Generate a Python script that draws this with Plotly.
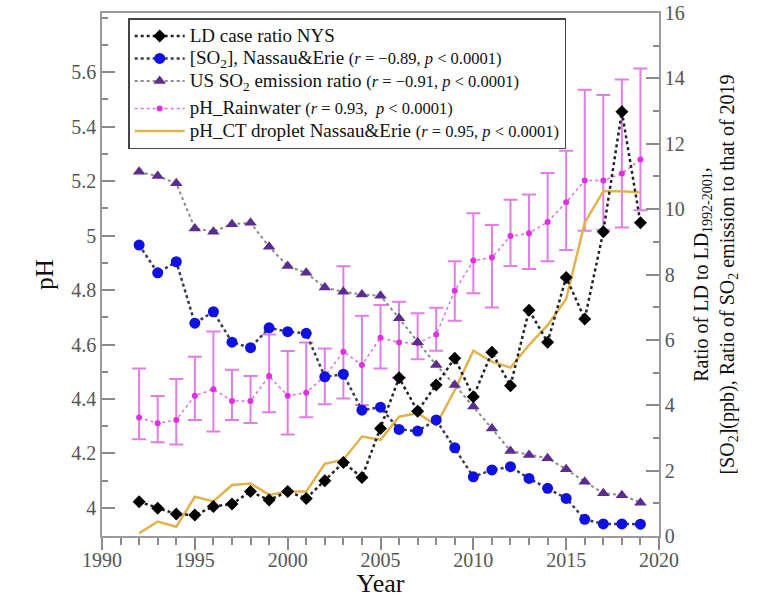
import plotly.graph_objects as go

years = list(range(1992, 2020))

ld_ratio = [1.05, 0.85, 0.67, 0.64, 0.90, 0.98, 1.36, 1.10, 1.36, 1.15, 1.69, 2.25, 1.79, 3.29,
            4.84, 3.82, 4.62, 5.44, 4.26, 5.62, 4.60, 6.91, 5.93, 7.91, 6.64, 9.31, 12.98, 9.58]

so2_ppb = [8.90, 8.05, 8.39, 6.51, 6.86, 5.93, 5.76, 6.37, 6.25, 6.20, 4.87, 4.95, 3.85, 3.94,
           3.26, 3.21, 3.55, 2.70, 1.81, 2.02, 2.12, 1.76, 1.46, 1.15, 0.51, 0.37, 0.37, 0.36]

us_so2_ratio = [11.14, 11.01, 10.79, 9.41, 9.31, 9.54, 9.58, 8.85, 8.26, 8.05, 7.60, 7.47, 7.39, 7.35,
                6.66, 5.93, 5.23, 4.62, 3.96, 3.29, 2.60, 2.48, 2.38, 2.04, 1.66, 1.31, 1.25, 1.02]

ph_rain = [4.332, 4.311, 4.323, 4.412, 4.436, 4.393, 4.393, 4.484, 4.412, 4.423, 4.484, 4.573, 4.525, 4.625,
           4.607, 4.605, 4.637, 4.797, 4.908, 4.919, 4.998, 5.008, 5.050, 5.122, 5.202, 5.202, 5.228, 5.279]
ph_rain_err_up = [0.18, 0.10, 0.15, 0.143, 0.212, 0.114, 0.091, 0.153, 0.164, 0.184, 0.101, 0.314, 0.181, 0.12,
                  0.15, 0.11, 0.098, 0.109, 0.174, 0.12, 0.133, 0.143, 0.18, 0.189, 0.333, 0.314, 0.345, 0.334]
ph_rain_err_down = [0.08, 0.07, 0.09, 0.089, 0.155, 0.07, 0.081, 0.133, 0.142, 0.09, 0.103, 0.171, 0.147, 0.113,
                    0.129, 0.059, 0.06, 0.11, 0.12, 0.183, 0.11, 0.131, 0.144, 0.175, 0.184, 0.181, 0.198, 0.186]

ph_ct = [3.907, 3.950, 3.931, 4.041, 4.024, 4.084, 4.090, 4.048, 4.060, 4.060, 4.162, 4.177, 4.262, 4.250,
         4.335, 4.348, 4.304, 4.433, 4.577, 4.537, 4.515, 4.598, 4.671, 4.767, 5.047, 5.163, 5.163, 5.158]

ph_tickvals = [4.0, 4.2, 4.4, 4.6, 4.8, 5.0, 5.2, 5.4, 5.6]
ph_ticktext = ["4", "4.2", "4.4", "4.6", "4.8", "5", "5.2", "5.4", "5.6"]

FONT = "Liberation Serif"
BIG = "<span style='font-size:19px'>"
SMALL = "<span style='font-size:16.5px'>"
END = "</span>"

fig = go.Figure()

fig.add_trace(go.Scatter(
    x=years, y=ph_rain, mode="lines+markers", yaxis="y",
    name=BIG + "pH_Rainwater " + END + SMALL + "(<i>r</i> = 0.93,  <i>p</i> &lt; 0.0001)" + END,
    line=dict(color="#e070e0", width=1.5, dash="dot"),
    marker=dict(color="#e030e0", size=6, symbol="circle"),
    error_y=dict(type="data", symmetric=False, array=ph_rain_err_up, arrayminus=ph_rain_err_down,
                 color="#e07ee6", thickness=2, width=7),
    legendgroup="b", legendrank=4,
))

fig.add_trace(go.Scatter(
    x=years, y=ph_ct, mode="lines", yaxis="y",
    name=BIG + "pH_CT droplet Nassau&amp;Erie " + END + SMALL + "(<i>r</i> = 0.95, <i>p</i> &lt; 0.0001)" + END,
    line=dict(color="#e3b24a", width=2.5),
    legendgroup="b", legendrank=5,
))

fig.add_trace(go.Scatter(
    x=years, y=us_so2_ratio, mode="lines+markers", yaxis="y2",
    name=BIG + "US SO<sub>2</sub> emission ratio " + END + SMALL + "(<i>r</i> = −0.91, <i>p</i> &lt; 0.0001)" + END,
    line=dict(color="#8a8a8a", width=2, dash="dot"),
    marker=dict(color="#5b2d8e", size=11, symbol="triangle-up"),
    legendgroup="a", legendrank=3,
))

fig.add_trace(go.Scatter(
    x=years, y=so2_ppb, mode="lines+markers", yaxis="y2",
    name=BIG + "[SO<sub>2</sub>], Nassau&amp;Erie " + END + SMALL + "(<i>r</i> = −0.89, <i>p</i> &lt; 0.0001)" + END,
    line=dict(color="#3a3a5a", width=2.5, dash="dot"),
    marker=dict(color="#1010e0", size=11, symbol="circle"),
    legendgroup="a", legendrank=2,
))

fig.add_trace(go.Scatter(
    x=years, y=ld_ratio, mode="lines+markers", yaxis="y2",
    name=BIG + "LD case ratio NYS" + END,
    line=dict(color="#222222", width=2.5, dash="dot"),
    marker=dict(color="#000000", size=10, symbol="diamond"),
    legendgroup="a", legendrank=1,
))

axis_common = dict(showline=True, linecolor="#9a9a9a", linewidth=1.5, showgrid=False, zeroline=False,
                   tickcolor="#8a8a8a", tickwidth=1.5, automargin=False, ticklabeloverflow="allow",
                   tickfont=dict(family=FONT, size=20, color="#555555"))

fig.update_layout(
    width=768, height=598,
    margin=dict(l=102, r=109, t=13, b=62),
    paper_bgcolor="white", plot_bgcolor="white",
    font=dict(family=FONT, size=18, color="#111111"),
    xaxis=dict(range=[1990, 2020], tickmode="linear", tick0=1990, dtick=5,
               ticks="outside", ticklen=12, mirror=True, ticklabelstandoff=-7,
               minor=dict(ticks="outside", ticklen=7, dtick=1, tick0=1990, tickcolor="#8a8a8a"),
               title=dict(text="Year", font=dict(family=FONT, size=26, color="#111111"), standoff=4),
               **axis_common),
    yaxis=dict(range=[3.897, 5.817], tickmode="array", tickvals=ph_tickvals, ticktext=ph_ticktext,
               ticks="inside", ticklen=13,
               minor=dict(ticks="inside", ticklen=6, tickmode="linear", tick0=4, dtick=0.1, tickcolor="#8a8a8a"),
               title=dict(text="pH", font=dict(family=FONT, size=25, color="#111111"), standoff=11),
               **axis_common),
    yaxis2=dict(range=[0, 16], overlaying="y", side="right", tickmode="linear", tick0=0, dtick=2,
                ticks="inside", ticklen=13,
                minor=dict(ticks="inside", ticklen=6, dtick=1, tick0=0, tickcolor="#8a8a8a"),
                title=dict(text="Ratio of LD to LD<sub>1992-2001</sub>,<br>[SO<sub>2</sub>](ppb), Ratio of SO<sub>2</sub> emission to that of 2019",
                           font=dict(family=FONT, size=20, color="#111111"), standoff=10),
                **axis_common),
    legend=dict(x=0.047, y=0.99, xanchor="left", yanchor="top",
                bordercolor="#444444", borderwidth=1.5, bgcolor="white",
                font=dict(family=FONT, size=15, color="#111111"),
                traceorder="grouped", tracegroupgap=5, itemwidth=50),
    showlegend=True,
)

fig.write_html("out.html", config={"displayModeBar": False},
               post_script="document.body.style.margin='0';document.body.style.overflow='hidden';")
